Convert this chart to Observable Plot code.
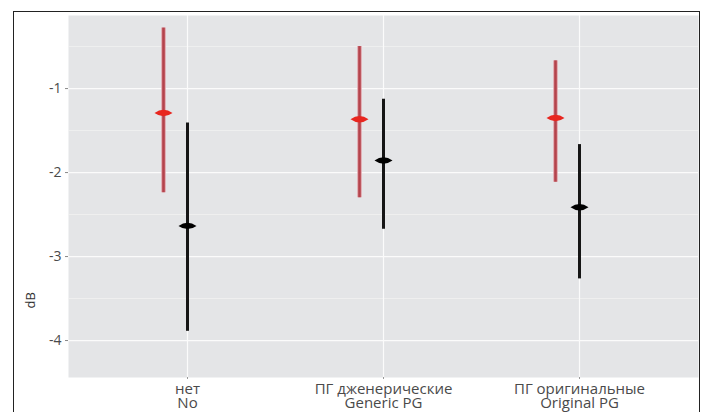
<!DOCTYPE html>
<html>
<head>
<meta charset="utf-8">
<script src="https://cdn.jsdelivr.net/npm/d3@7"></script>
<script src="https://cdn.jsdelivr.net/npm/@observablehq/plot@0.6"></script>
<style>
  html, body { margin: 0; padding: 0; background: #fff; }
  #wrap { position: relative; width: 705px; height: 412px; overflow: hidden; }
  #frame { position: absolute; left: 13px; top: 11px; width: 687px; height: 430px; border: 1.5px solid #222; box-sizing: border-box; pointer-events: none; }
</style>
</head>
<body>
<div id="wrap"><div id="frame"></div></div>
<script>
const categories = ["No", "Generic PG", "Original PG"];
const labelsRu = ["нет", "ПГ дженерические", "ПГ оригинальные"];
const labelsEn = ["No", "Generic PG", "Original PG"];
const yTicks = [-1, -2, -3, -4];

// red series
const redMean = [-1.29, -1.365, -1.35];
const redLow  = [-2.24, -2.30, -2.115];
const redHigh = [-0.28, -0.50, -0.67];
// black series
const blackMean = [-2.635, -1.857, -2.413];
const blackLow  = [-3.89, -2.675, -3.266];
const blackHigh = [-1.41, -1.127, -1.667];

const red = categories.map((c, i) => ({cat: c, mean: redMean[i], low: redLow[i], high: redHigh[i]}));
const black = categories.map((c, i) => ({cat: c, mean: blackMean[i], low: blackLow[i], high: blackHigh[i]}));

const lens = {
  draw(context, size) {
    const w = 9, h = 3.2;
    context.moveTo(-w, 0);
    context.quadraticCurveTo(0, -2 * h, w, 0);
    context.quadraticCurveTo(0, 2 * h, -w, 0);
    context.closePath();
  }
};

const labelMap = new Map(categories.map((c, i) => [c, labelsRu[i] + "\n" + labelsEn[i]]));
const redDx = -24;

const chart = Plot.plot({
  width: 705,
  height: 412,
  marginLeft: 68,
  marginRight: 7,
  marginTop: 15,
  marginBottom: 35,
  style: {fontFamily: "'Open Sans', sans-serif", background: "transparent"},
  x: {type: "point", domain: categories, padding: 0.6, label: null},
  y: {domain: [-4.44, -0.13], label: null},
  marks: [
    Plot.frame({fill: "#e4e5e7", stroke: null}),
    Plot.gridY([-0.5, -1.5, -2.5, -3.5], {stroke: "#f2f2f3", strokeOpacity: 1, strokeWidth: 0.8}),
    Plot.gridY(yTicks, {stroke: "#fbfbfb", strokeOpacity: 1, strokeWidth: 1.2}),
    Plot.gridX(categories, {stroke: "#fbfbfb", strokeOpacity: 1, strokeWidth: 1.2}),
    Plot.axisY(yTicks, {tickFormat: d => String(d), fontSize: 14, fill: "#4a4a4a", stroke: "#888", tickSize: 3, tickPadding: 4}),
    Plot.axisX(categories, {tickFormat: d => labelMap.get(d), fontSize: 15, fill: "#4a4a4a", stroke: "#999", tickSize: 2, tickPadding: 4, lineHeight: 0.97}),
    Plot.text(["dB"], {frameAnchor: "left", dx: -38, dy: 112, rotate: -90, fontSize: 13, fill: "#333"}),
    Plot.ruleX(red, {x: "cat", y1: "low", y2: "high", dx: redDx, stroke: "#e0a0a8", strokeWidth: 4.5}),
    Plot.ruleX(red, {x: "cat", y1: "low", y2: "high", dx: redDx, stroke: "#b4434c", strokeWidth: 2.6}),
    Plot.dot(red, {x: "cat", y: "mean", dx: redDx, symbol: lens, fill: "#e8261f", stroke: null}),
    Plot.ruleX(black, {x: "cat", y1: "low", y2: "high", stroke: "#151515", strokeWidth: 3}),
    Plot.dot(black, {x: "cat", y: "mean", symbol: lens, fill: "#000", stroke: null})
  ]
});
document.getElementById("wrap").prepend(chart);
</script>
</body>
</html>
